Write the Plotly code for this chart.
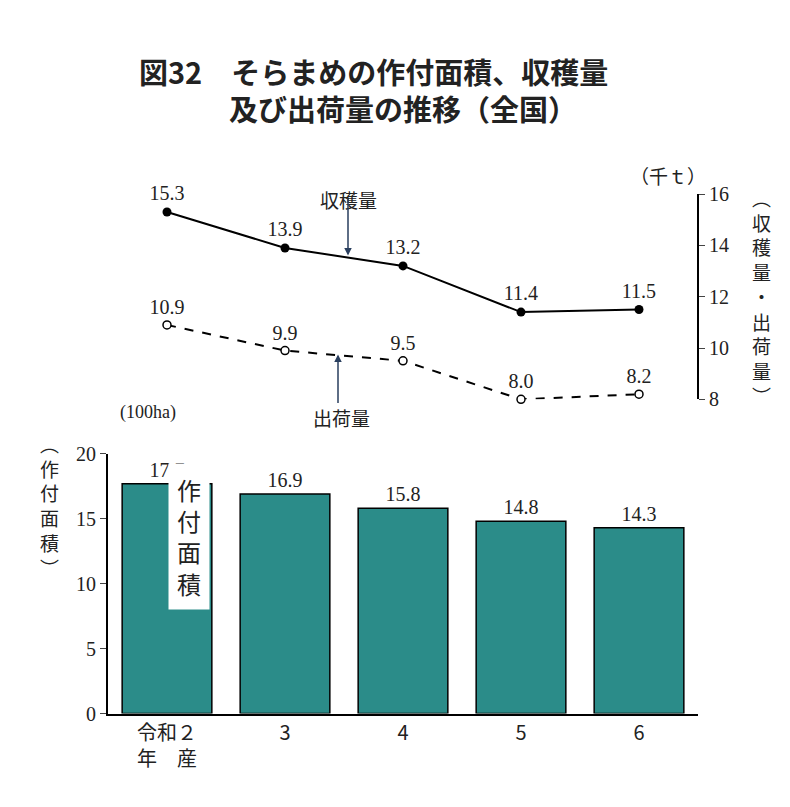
import plotly.graph_objects as go

years = ["令和２<br>年　産", "3", "4", "5", "6"]
area = [17.7, 16.9, 15.8, 14.8, 14.3]
harvest = [15.3, 13.9, 13.2, 11.4, 11.5]
shipment = [10.9, 9.9, 9.5, 8.0, 8.2]

serif = "Liberation Serif"
jp = "Noto Sans CJK JP"
W, H = 790, 807
def px(x): return x / W
def py(y): return 1 - y / H

fig = go.Figure()
fig.add_bar(x=years, y=area, marker=dict(color="#2b8c89", line=dict(color="black", width=1.5)),
            width=0.76, text=[f"{v:.1f}" for v in area], textposition="outside",
            textfont=dict(family=serif, size=20, color="#222"), cliponaxis=False,
            xaxis="x", yaxis="y")
fig.add_scatter(x=years, y=harvest, mode="lines+markers+text", xaxis="x", yaxis="y2",
                line=dict(color="black", width=2), marker=dict(color="black", size=9),
                text=[f"{v:.1f}" for v in harvest], textposition="top center",
                textfont=dict(family=serif, size=20, color="#222"), cliponaxis=False)
fig.add_scatter(x=years, y=shipment, mode="lines+markers+text", xaxis="x", yaxis="y2",
                line=dict(color="black", width=2, dash="dash"),
                marker=dict(color="white", size=8, line=dict(color="black", width=1.5)),
                text=[f"{v:.1f}" for v in shipment], textposition="top center",
                textfont=dict(family=serif, size=20, color="#222"), cliponaxis=False)

fig.update_layout(
    width=W, height=H, margin=dict(l=0, r=0, t=0, b=0), showlegend=False,
    plot_bgcolor="white", paper_bgcolor="white",
    xaxis=dict(domain=[px(100), px(690)], range=[-0.5, 4.5], showline=True, linecolor="black",
               linewidth=2, ticks="", tickfont=dict(family=jp, size=20, color="#222"),
               anchor="y"),
    yaxis=dict(domain=[py(714), py(447)], range=[0, 20], dtick=5, showline=True, linecolor="black",
               linewidth=2, ticks="outside", ticklen=6, showgrid=False, zeroline=False,
               tickfont=dict(family=serif, size=20, color="#222")),
    yaxis2=dict(domain=[py(391), py(180)], range=[8, 16], dtick=2, side="right", anchor="free",
                position=px(690), showline=True, linecolor="black", linewidth=2, ticks="outside",
                ticklen=6, showgrid=False, zeroline=False,
                tickfont=dict(family=serif, size=20, color="#222")),
)

def ann(x, y, t, size=20, fam=jp, **kw):
    fig.add_annotation(x=px(x), y=py(y), xref="paper", yref="paper", text=t, showarrow=False,
                       font=dict(family=fam, size=size, color="#222"), **kw)

ann(365, 30, "<b>図32　そらまめの作付面積、収穫量</b>", size=29)
ann(395, 68, "<b>及び出荷量の推移（全国）</b>", size=29)
ann(700, 145, "（千ｔ）", size=19)
ann(765, 285, "︵<br>収<br>穫<br>量<br>・<br>出<br>荷<br>量<br>︶", size=19)
ann(110, 405, "(100ha)", size=18, fam=serif)
ann(30, 580, "︵<br>作<br>付<br>面<br>積<br>︶", size=19)
ann(160, 608, "作<br>付<br>面<br>積", size=24, bgcolor="white", borderpad=8)
ann(340, 170, "収穫量", size=19)
ann(333, 410, "出荷量", size=19)
fig.add_annotation(x=px(340), y=py(243), xref="paper", yref="paper",
                   ax=0, ay=-58, showarrow=True, arrowhead=2, arrowwidth=1.5, text="")
fig.add_annotation(x=px(330), y=py(345), xref="paper", yref="paper",
                   ax=0, ay=50, showarrow=True, arrowhead=2, arrowwidth=1.5, text="")

fig.write_html("out.html")
